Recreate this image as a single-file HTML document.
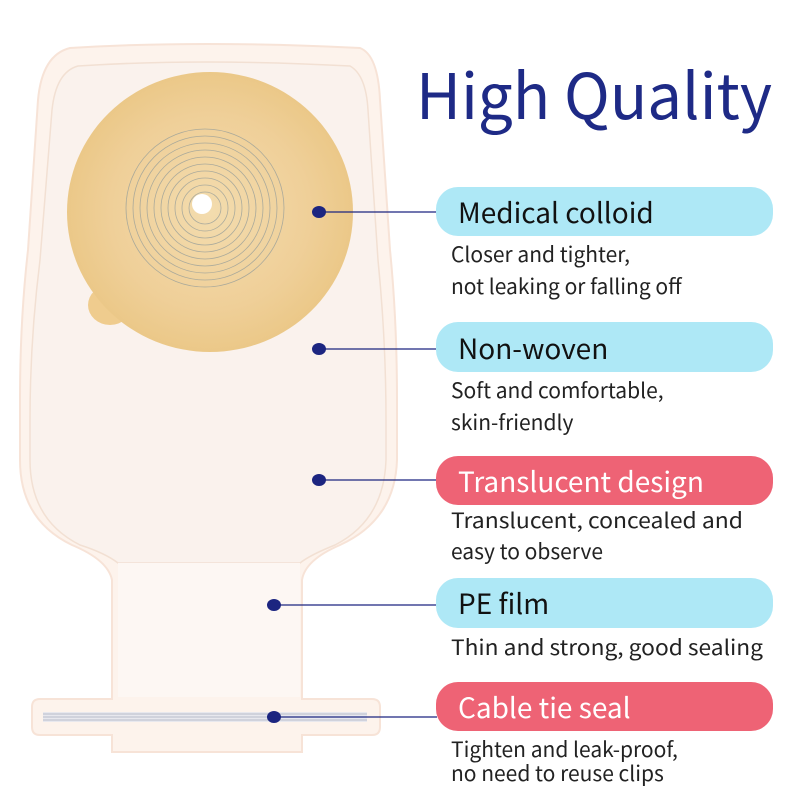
<!DOCTYPE html>
<html><head><meta charset="utf-8"><style>
html,body{margin:0;padding:0;background:#fff;}
svg{display:block}
text{font-family:"Noto Sans CJK SC","Liberation Sans",sans-serif;}
</style></head><body>
<svg width="800" height="800" viewBox="0 0 800 800" xmlns="http://www.w3.org/2000/svg">
<defs>
<radialGradient id="col" cx="0.5" cy="0.5" r="0.5">
<stop offset="0" stop-color="#f3dcae"/><stop offset="0.7" stop-color="#efcf98"/><stop offset="1" stop-color="#ebc888"/>
</radialGradient>
</defs>
<rect width="800" height="800" fill="#fff"/>
<path d="M70,48 Q200,40 360,48 Q378,55 380,100 L390,250 Q397,320 397,400 L397,460 Q395,520 340,545 Q305,560 302,580 L302,699 L372,699 Q380,699 380,707 L380,727 Q380,735 372,735 L302,735 L302,752 L112,752 L112,735 L40,735 Q32,735 32,727 L32,707 Q32,699 40,699 L112,699 L112,580 Q108,560 72,545 Q20,520 20,460 L20,400 Q20,320 28,250 L38,100 Q42,55 70,48 Z" fill="#fdf3ec" stroke="#f7e3d7" stroke-width="2"/>
<path d="M78,66 Q200,58 350,66 Q366,75 368,110 L378,260 Q386,340 386,420 L386,460 Q384,520 335,545 Q310,555 300,563 L118,563 Q105,553 80,545 Q30,520 30,460 L30,420 Q30,340 40,260 L52,110 Q56,72 78,66 Z" fill="#faf2ed" stroke="#f2e0d3" stroke-width="1.5"/>
<rect x="118" y="563" width="182" height="134" fill="#fdf7f3"/>
<rect x="43" y="712" width="324" height="10" fill="#e8e8ee"/>
<line x1="43" y1="714" x2="367" y2="714" stroke="#b9bcc9"/>
<line x1="43" y1="717" x2="367" y2="717" stroke="#b9bcc9"/>
<line x1="43" y1="720" x2="367" y2="720" stroke="#b9bcc9"/>
<ellipse cx="110" cy="305" rx="22" ry="20" fill="#efcc8e"/>
<ellipse cx="210" cy="212" rx="143" ry="140" fill="url(#col)"/>
<g fill="none" stroke="#9aa09a" stroke-width="0.8" opacity="0.8">
<circle cx="205" cy="208" r="16"/><circle cx="205" cy="208" r="23"/><circle cx="205" cy="208" r="30"/><circle cx="205" cy="208" r="37"/><circle cx="205" cy="208" r="44"/><circle cx="205" cy="208" r="51"/><circle cx="205" cy="208" r="58"/><circle cx="205" cy="208" r="65"/><circle cx="205" cy="208" r="72"/><circle cx="205" cy="208" r="79"/>
</g>
<circle cx="202" cy="204" r="10" fill="#fff"/>
<g stroke="#1c2580" stroke-width="1.2">
<line x1="318" y1="212" x2="437" y2="212"/><line x1="318" y1="349" x2="437" y2="349"/><line x1="318" y1="480" x2="437" y2="480"/><line x1="273" y1="605" x2="437" y2="605"/><line x1="273" y1="717" x2="437" y2="717"/>
</g>
<g fill="#1c2580">
<ellipse cx="319" cy="212" rx="7" ry="6"/><ellipse cx="319" cy="349" rx="7" ry="6"/><ellipse cx="319" cy="480" rx="7" ry="6"/><ellipse cx="274" cy="605" rx="7" ry="6"/><ellipse cx="274" cy="717" rx="7" ry="6"/>
</g>
<rect x="436" y="187" width="337" height="49" rx="22" fill="#aee8f6"/>
<rect x="436" y="322" width="337" height="50" rx="22" fill="#aee8f6"/>
<rect x="436" y="456" width="337" height="49" rx="22" fill="#ee6375"/>
<rect x="436" y="578" width="337" height="50" rx="22" fill="#aee8f6"/>
<rect x="436" y="682" width="337" height="49" rx="22" fill="#ee6375"/>
<text x="416" y="119" font-size="63" fill="#1e2a86" textLength="356" lengthAdjust="spacingAndGlyphs">High Quality</text>
<g font-size="28">
<text x="458" y="223" fill="#111">Medical colloid</text>
<text x="458" y="359" fill="#111">Non-woven</text>
<text x="458" y="492" fill="#fff">Translucent design</text>
<text x="458" y="614" fill="#111">PE film</text>
<text x="458" y="718" fill="#fff">Cable tie seal</text>
</g>
<g font-size="21" fill="#222">
<text x="451" y="262">Closer and tighter,</text>
<text x="451" y="294">not leaking or falling off</text>
<text x="451" y="398">Soft and comfortable,</text>
<text x="451" y="430">skin-friendly</text>
<text x="451" y="528" textLength="292" lengthAdjust="spacingAndGlyphs">Translucent, concealed and</text>
<text x="451" y="559">easy to observe</text>
<text x="451" y="655" textLength="312" lengthAdjust="spacingAndGlyphs">Thin and strong, good sealing</text>
<text x="451" y="757">Tighten and leak-proof,</text>
<text x="451" y="781">no need to reuse clips</text>
</g>
</svg>
</body></html>
